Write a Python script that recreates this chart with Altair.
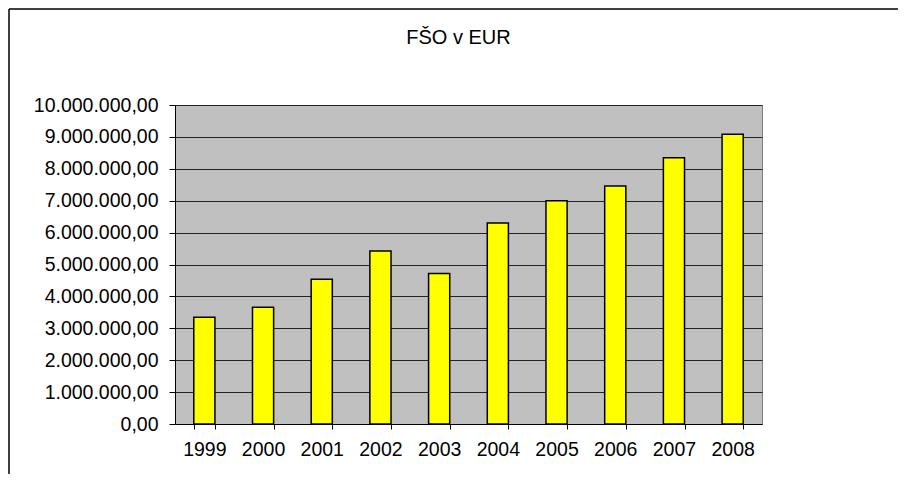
import altair as alt
import pandas as pd

years = ["1999", "2000", "2001", "2002", "2003", "2004", "2005", "2006", "2007", "2008"]
values = [3350000, 3660000, 4540000, 5420000, 4720000, 6300000, 7000000, 7460000, 8350000, 9080000]
y_ticks = [0, 1000000, 2000000, 3000000, 4000000, 5000000, 6000000, 7000000, 8000000, 9000000, 10000000]
title_text = "FŠO v EUR"

df = pd.DataFrame({"year": years, "value": values})

FONT = "Liberation Sans"
FS = 19.5
W, H = 587, 319
PAD_L, PAD_T = 167, 97

label_expr = (
    "replace(replace(replace(format(datum.value, ',.2f'), regexp(',', 'g'), '#'), "
    "regexp('[.]', 'g'), ','), regexp('#', 'g'), '.')"
)

bars = alt.Chart(df).mark_bar(
    color="#FFFF00", stroke="#000000", strokeWidth=1.5
).encode(
    x=alt.X(
        "year:N",
        sort=years,
        scale=alt.Scale(paddingInner=0.64, paddingOuter=0.32),
        axis=alt.Axis(
            title=None, labelAngle=0, tickBand="extent", tickSize=5,
            labelPadding=11, grid=False, domainColor="#000000", tickColor="#000000",
            labelFont=FONT, labelFontSize=FS, labelColor="#000000",
        ),
    ),
    y=alt.Y(
        "value:Q",
        scale=alt.Scale(domain=[0, 10000000], nice=False),
        axis=alt.Axis(
            title=None, values=y_ticks, labelExpr=label_expr, tickSize=6,
            labelPadding=11, grid=True, gridColor="#222222", gridWidth=1,
            domainColor="#000000", tickColor="#000000",
            labelFont=FONT, labelFontSize=FS, labelColor="#000000",
        ),
    ),
)

frame_df = pd.DataFrame({"k": [0]})
border_left = alt.Chart(frame_df).mark_rule(color="#000000", strokeWidth=1.5).encode(
    x=alt.value(-PAD_L + 1), y=alt.value(-PAD_T + 1), y2=alt.value(H + 80)
)
border_top = alt.Chart(frame_df).mark_rule(color="#000000", strokeWidth=1.5).encode(
    x=alt.value(-PAD_L + 1), x2=alt.value(W + 200), y=alt.value(-PAD_T + 1)
)
title_df = pd.DataFrame({"t": [title_text]})
title = alt.Chart(title_df).mark_text(
    font=FONT, fontSize=20, color="#000000", align="center", baseline="middle"
).encode(
    text="t:N", x=alt.value(W / 2 - 10), y=alt.value(-67)
)

chart = alt.layer(bars, border_left, border_top, title).properties(
    width=W,
    height=H,
    autosize=alt.AutoSizeParams(type="none"),
    padding={"left": PAD_L, "top": PAD_T, "right": 136, "bottom": 50},
).configure(
    background="#FFFFFF"
).configure_view(
    fill="#C0C0C0", stroke="#808080", strokeWidth=1
)

chart.save("out.html", embed_options={"renderer": "svg", "actions": False})
